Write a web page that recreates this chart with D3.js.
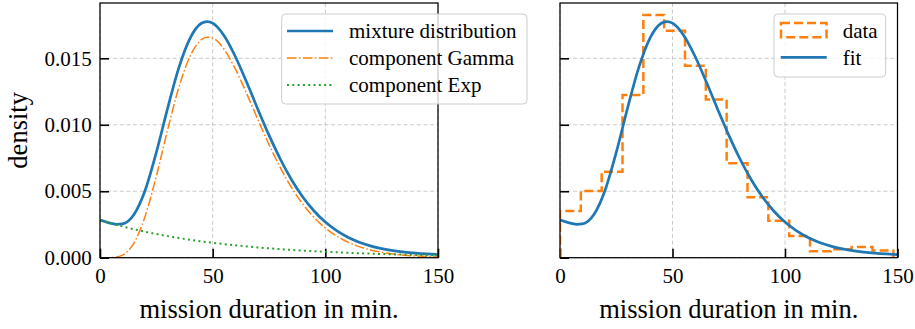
<!DOCTYPE html>
<html>
<head>
<meta charset="utf-8">
<script src="https://cdn.jsdelivr.net/npm/d3@7"></script>
<style>
  body { margin: 0; background: #fff; }
  svg { display: block; font-family: "Liberation Serif", "DejaVu Serif", serif; }
  svg text { font-family: "Liberation Serif", "DejaVu Serif", serif; }
</style>
</head>
<body>
<svg id="chart" width="915" height="329"></svg>
<script>
// values
const durations = [0, 5, 7.5, 10, 15, 20, 25, 30, 35, 40, 45, 47.5, 50, 55, 60, 65, 70, 75,
                   80, 85, 90, 95, 100, 105, 110, 115, 120, 125, 130, 135, 140, 145, 150];
const mixture = [0.00283, 0.002587, 0.002514, 0.002545, 0.003228, 0.005057, 0.007918, 0.011237,
                 0.014293, 0.016517, 0.017635, 0.017764, 0.017641, 0.016717, 0.015153, 0.013232,
                 0.011191, 0.009218, 0.007424, 0.005867, 0.004566, 0.003513, 0.002679, 0.002033,
                 0.001539, 0.001168, 0.000892, 0.000686, 0.000536, 0.000425, 0.000343, 0.000281,
                 0.000235];
const gammaComp = [0, 0.000007, 0.000051, 0.000194, 0.001085, 0.003103, 0.006137, 0.009614,
                   0.012813, 0.015168, 0.016405, 0.01659, 0.01652, 0.015695, 0.014222, 0.012383,
                   0.010417, 0.008513, 0.006781, 0.005281, 0.004032, 0.003026, 0.002235, 0.001628,
                   0.00117, 0.000832, 0.000585, 0.000407, 0.000281, 0.000193, 0.000131, 0.000088,
                   0.000059];
const expComp = [0.00283, 0.00258, 0.002463, 0.002351, 0.002143, 0.001954, 0.001781, 0.001623,
                 0.00148, 0.001349, 0.00123, 0.001174, 0.001121, 0.001022, 0.000931, 0.000849,
                 0.000774, 0.000705, 0.000643, 0.000586, 0.000534, 0.000487, 0.000444, 0.000405,
                 0.000369, 0.000336, 0.000307, 0.000279, 0.000255, 0.000232, 0.000212, 0.000193,
                 0.000176];

const binEdges = [0, 9.26, 18.52, 27.78, 37.04, 46.3, 55.56, 64.81, 74.07, 83.33,
                  92.59, 101.85, 111.11, 120.37, 129.63, 138.89, 148.15];
const binDensity = [0.00351, 0.00502, 0.00647, 0.01223, 0.01825, 0.01707, 0.01444, 0.01191,
                    0.0071, 0.00454, 0.00278, 0.00163, 0.00048, 0.00063, 0.0008, 0.00055];

const xTicks = [0, 50, 100, 150];
const yTicks = [0, 0.005, 0.010, 0.015];

const BLUE = "#1f77b4", ORANGE = "#ff7f0e", GREEN = "#2ca02c";
const FONT = '"Liberation Serif", "DejaVu Serif", serif';
const plotTop = 3, plotBottom = 257.7;

const svg = d3.select("#chart");

const y = d3.scaleLinear().domain([0, 0.01916]).range([plotBottom, plotTop]);

function makePanel(left, right, name, showYLabels) {
    const x = d3.scaleLinear().domain([0, 150]).range([left, right]);
    const g = svg.append("g");

    g.append("clipPath").attr("id", "clip-" + name)
        .append("rect")
        .attr("x", left).attr("y", plotTop)
        .attr("width", right - left).attr("height", plotBottom - plotTop);

    const grid = g.append("g")
        .attr("stroke", "#c4c4c4")
        .attr("stroke-width", 0.9)
        .attr("stroke-dasharray", "4,2.6");
    grid.selectAll(".gx").data(xTicks).enter().append("line")
        .attr("x1", d => x(d)).attr("x2", d => x(d))
        .attr("y1", plotTop).attr("y2", plotBottom);
    grid.selectAll(".gy").data(yTicks).enter().append("line")
        .attr("x1", left).attr("x2", right)
        .attr("y1", d => y(d)).attr("y2", d => y(d));

    const xAxis = g.append("g")
        .attr("transform", `translate(0,${plotBottom})`)
        .call(d3.axisBottom(x).tickValues(xTicks).tickSize(-9).tickPadding(10));
    const yAxis = g.append("g")
        .attr("transform", `translate(${left},0)`)
        .call(d3.axisLeft(y).tickValues(yTicks).tickSize(-9).tickPadding(8.3)
            .tickFormat(showYLabels ? d3.format(".3f") : ""));

    [xAxis, yAxis].forEach(a => {
        a.select(".domain").remove();
        a.attr("font-family", null).attr("font-size", 21);
        a.selectAll("line").attr("stroke", "#000").attr("stroke-width", 1.6);
        a.selectAll("text").attr("fill", "#000").style("font-family", FONT);
    });

    const plot = g.append("g").attr("clip-path", `url(#clip-${name})`);

    g.append("rect")
        .attr("x", left).attr("y", plotTop)
        .attr("width", right - left).attr("height", plotBottom - plotTop)
        .attr("fill", "none").attr("stroke", "#000").attr("stroke-width", 1.25);

    g.append("text")
        .attr("x", (left + right) / 2).attr("y", 318)
        .attr("text-anchor", "middle")
        .attr("font-size", 26.5)
        .text("mission duration in min.");

    return { x, g, plot };
}

const L = makePanel(100, 438, "left", true);
const R = makePanel(560, 897.5, "right", false);

svg.append("text")
    .attr("transform", `translate(27,${(plotTop + plotBottom) / 2}) rotate(-90)`)
    .attr("text-anchor", "middle")
    .attr("font-size", 26.5)
    .text("density");

// left panel curves
function curveLine(x, values) {
    return d3.line()
        .x((d, i) => x(durations[i]))
        .y(d => y(d))
        .curve(d3.curveMonotoneX)(values);
}

L.plot.append("path").attr("d", curveLine(L.x, mixture))
    .attr("fill", "none").attr("stroke", BLUE).attr("stroke-width", 2.7);
L.plot.append("path").attr("d", curveLine(L.x, gammaComp))
    .attr("fill", "none").attr("stroke", ORANGE).attr("stroke-width", 1.5)
    .attr("stroke-dasharray", "9.6,2.4,1.5,2.4");
L.plot.append("path").attr("d", curveLine(L.x, expComp))
    .attr("fill", "none").attr("stroke", GREEN).attr("stroke-width", 2)
    .attr("stroke-dasharray", "2,3.3");

// right panel: step histogram then fit
const steps = [[binEdges[0], 0]];
binDensity.forEach((h, i) => {
    steps.push([binEdges[i], h]);
    steps.push([binEdges[i + 1], h]);
});
steps.push([binEdges[binEdges.length - 1], 0]);

R.plot.append("path")
    .attr("d", d3.line().x(d => R.x(d[0])).y(d => y(d[1]))(steps))
    .attr("fill", "none").attr("stroke", ORANGE).attr("stroke-width", 2.5)
    .attr("stroke-dasharray", "9,4");
R.plot.append("path").attr("d", curveLine(R.x, mixture))
    .attr("fill", "none").attr("stroke", BLUE).attr("stroke-width", 2.7);

// legends
function legendBox(x0, y0, w, h) {
    return svg.append("rect")
        .attr("x", x0).attr("y", y0).attr("width", w).attr("height", h)
        .attr("rx", 4).attr("ry", 4)
        .attr("fill", "#fff").attr("fill-opacity", 0.8)
        .attr("stroke", "#cccccc").attr("stroke-width", 1);
}

legendBox(281.7, 14, 245.3, 90);
const leftItems = [
    { label: "mixture distribution", color: BLUE, width: 2.7, dash: null },
    { label: "component Gamma", color: ORANGE, width: 1.5, dash: "9.6,2.4,1.5,2.4" },
    { label: "component Exp", color: GREEN, width: 2, dash: "2,3.3" }
];
leftItems.forEach((it, i) => {
    const cy = 31 + i * 27;
    svg.append("line")
        .attr("x1", 287).attr("x2", 333).attr("y1", cy).attr("y2", cy)
        .attr("stroke", it.color).attr("stroke-width", it.width)
        .attr("stroke-dasharray", it.dash);
    svg.append("text")
        .attr("x", 349).attr("y", cy + 7)
        .attr("font-size", 21)
        .text(it.label);
});

legendBox(774, 14, 111.7, 63);
svg.append("rect")
    .attr("x", 781).attr("y", 23).attr("width", 45.5).attr("height", 14.3)
    .attr("fill", "none").attr("stroke", ORANGE).attr("stroke-width", 2.5)
    .attr("stroke-dasharray", "9,4");
svg.append("text").attr("x", 842.7).attr("y", 38).attr("font-size", 21).text("data");
svg.append("line")
    .attr("x1", 780.7).attr("x2", 826.7).attr("y1", 57.3).attr("y2", 57.3)
    .attr("stroke", BLUE).attr("stroke-width", 2.7);
svg.append("text").attr("x", 842.7).attr("y", 65).attr("font-size", 21).text("fit");
</script>
</body>
</html>
